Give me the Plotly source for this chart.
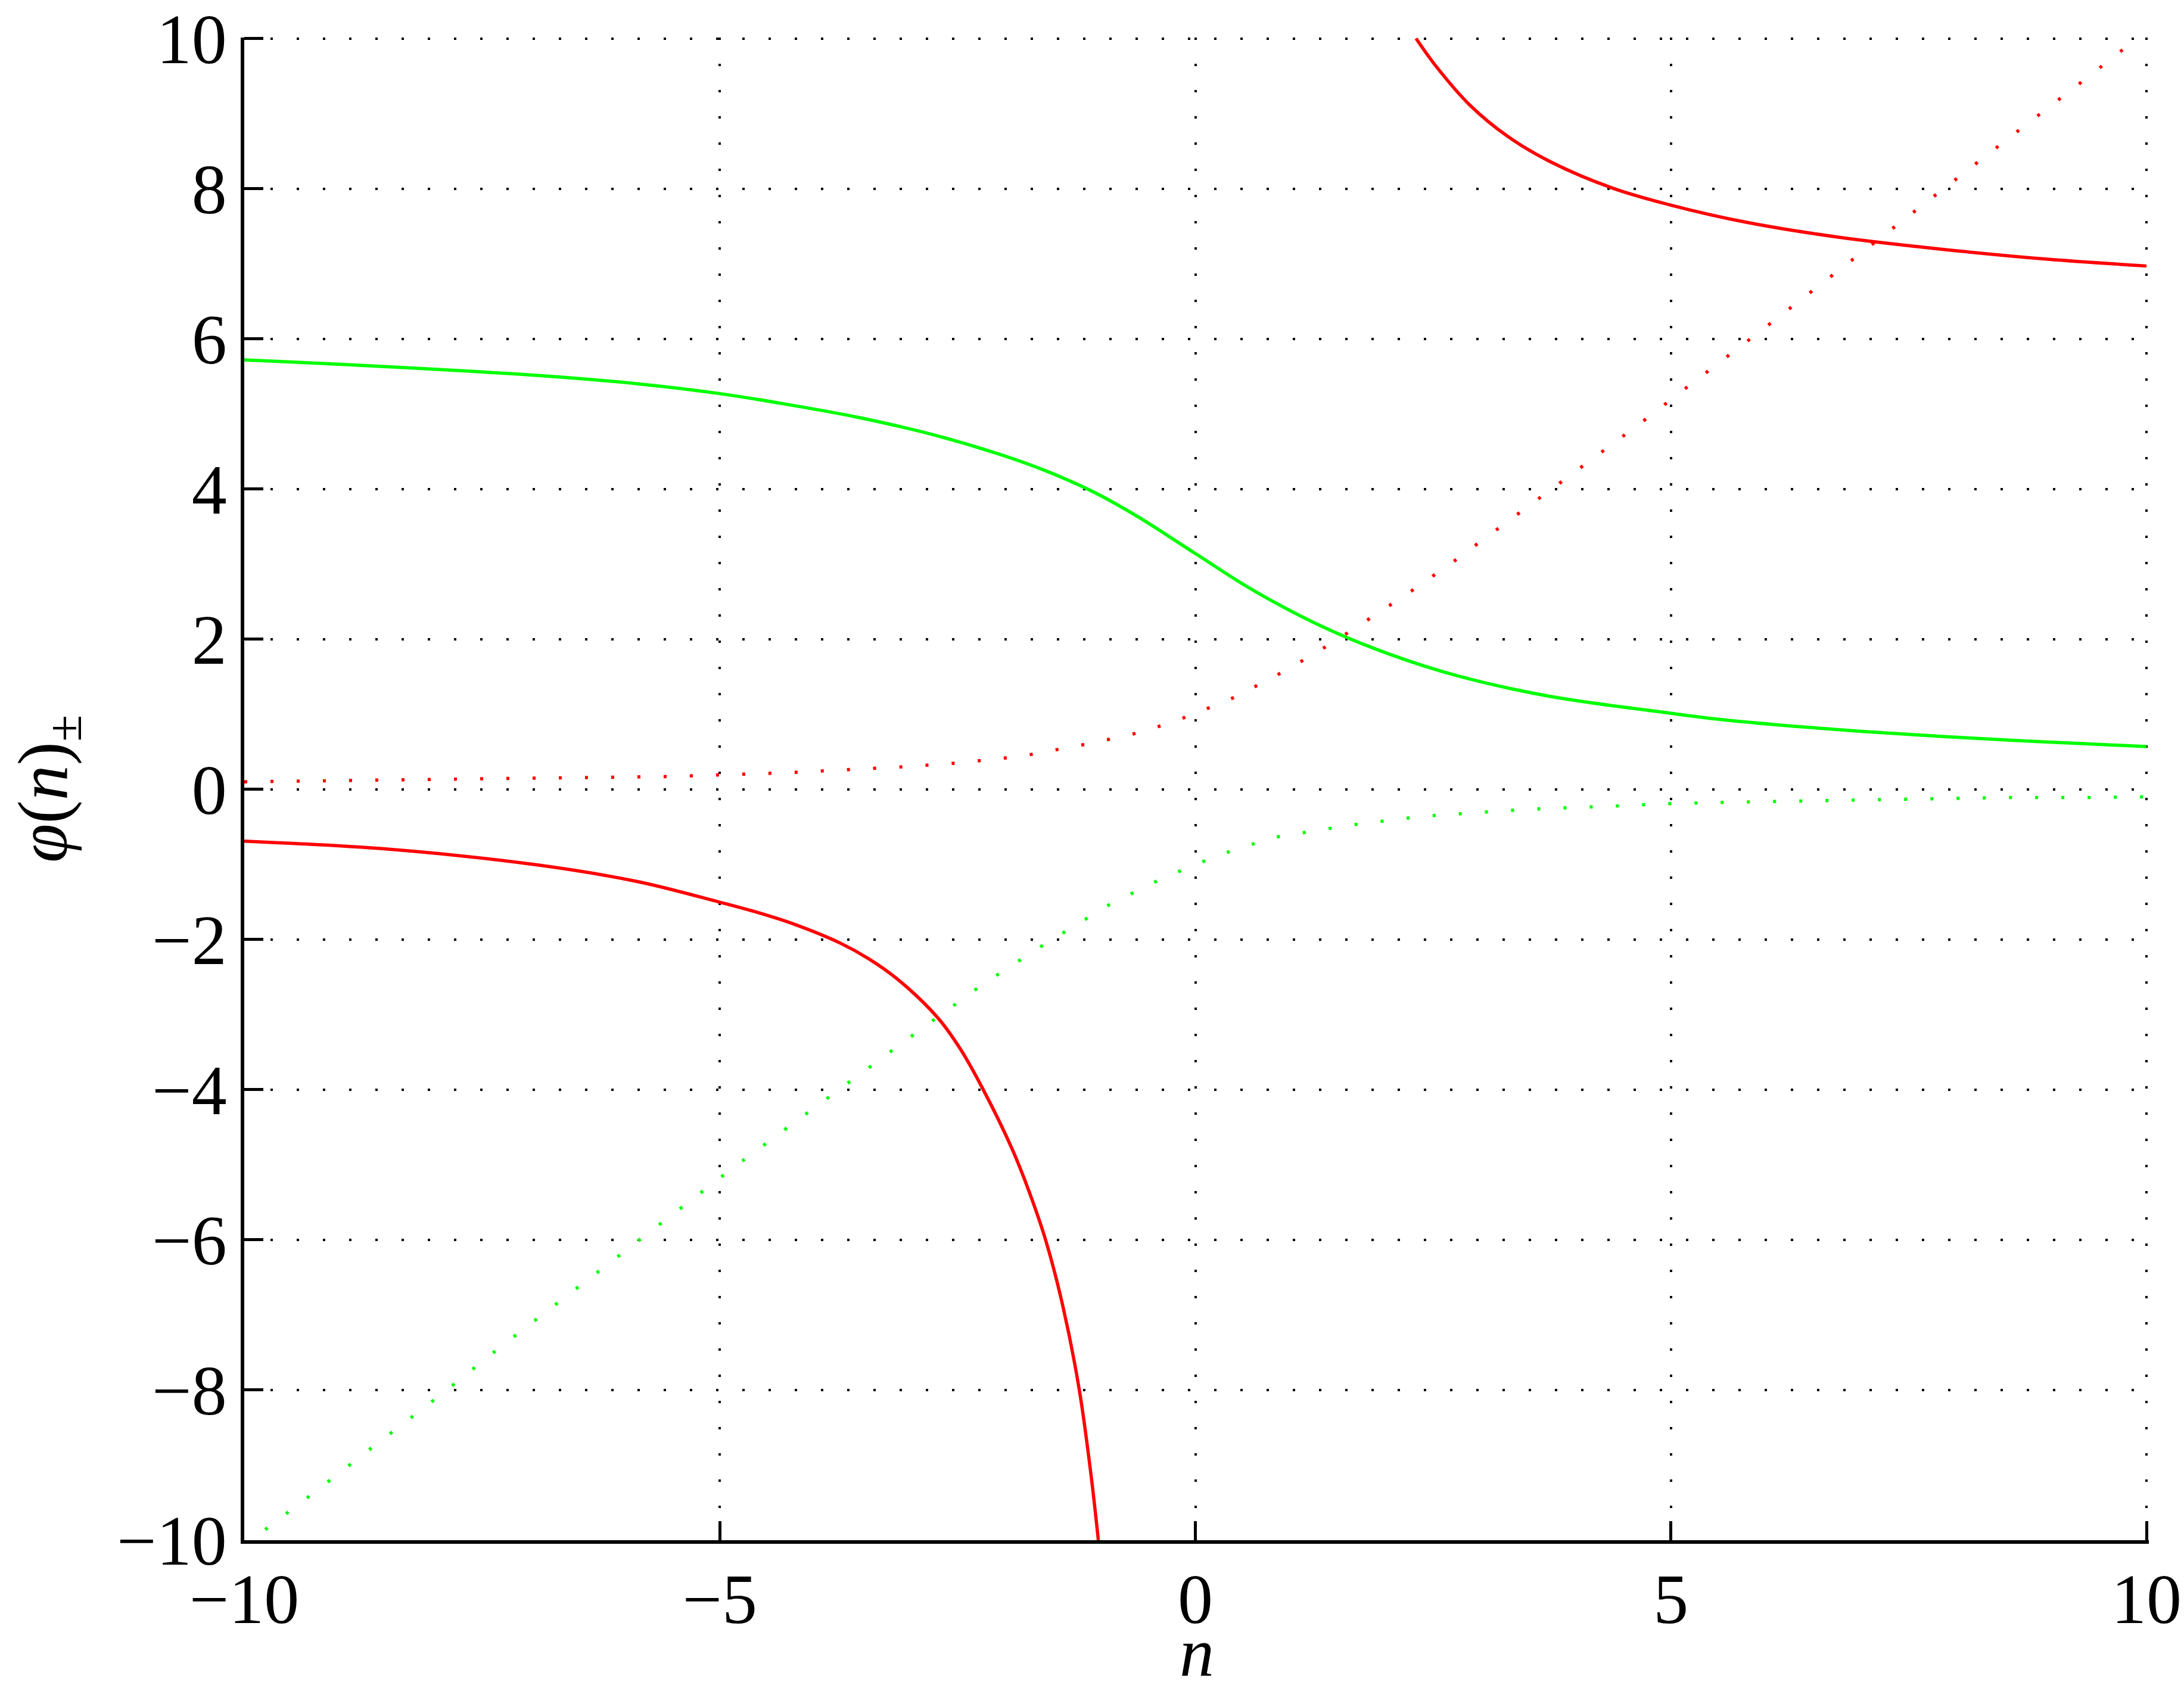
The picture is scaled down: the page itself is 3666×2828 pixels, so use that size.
"""
phi(n)+- curves, MATLAB-style grid plot
"""

import plotly.graph_objects as go

# red solid, upper branch
red_up_n = [2.32, 2.53, 2.88, 3.29, 3.73, 4.38, 5.00, 5.80, 6.78, 7.87, 8.96, 10.0]
red_up_y = [10.0, 9.63, 9.12, 8.69, 8.36, 8.01, 7.78, 7.55, 7.35, 7.19, 7.06, 6.97]

# red solid, lower branch
red_lo_n = [-10.0, -8.46, -6.90, -5.86, -5.01, -4.63, -4.21, -3.73, -3.43, -3.13,
            -2.71, -2.47, -2.23, -1.93, -1.75, -1.57, -1.39, -1.22, -1.10, -1.02]
red_lo_y = [-0.69, -0.80, -1.01, -1.23, -1.50, -1.63, -1.80, -2.05, -2.26, -2.53,
            -3.04, -3.46, -4.00, -4.78, -5.35, -6.02, -6.90, -8.00, -9.10, -10.0]

# green solid
green_n = [-10.0, -8.98, -7.94, -6.90, -5.86, -5.00, -4.31, -3.53, -2.75,
           -2.03, -1.55, -1.07, -0.59, 0.0, 0.61, 1.33, 2.04, 2.76, 3.72,
           4.96, 5.49, 6.30, 7.08, 7.85, 8.62, 9.39, 10.0]
green_y = [5.72, 5.66, 5.59, 5.51, 5.40, 5.27, 5.13, 4.95, 4.72,
           4.45, 4.23, 3.96, 3.62, 3.14, 2.65, 2.17, 1.80, 1.51, 1.24,
           1.02, 0.935, 0.84, 0.765, 0.705, 0.65, 0.605, 0.57]

# red dotted
red_dot_n = [-10.0, -8.46, -6.90, -5.55, -4.31, -3.06, -2.50, -2.05, -1.79, -1.07,
             -0.54, -0.06, 0.42, 0.96, 1.40, 1.84, 2.27, 2.70, 3.12, 3.54,
             4.01, 4.43, 4.85, 5.06, 5.95, 6.84, 7.69, 8.59, 9.43, 9.84, 10.0]
red_dot_y = [0.10, 0.12, 0.15, 0.17, 0.22, 0.30, 0.35, 0.41, 0.45, 0.62,
             0.77, 0.98, 1.23, 1.59, 1.92, 2.28, 2.64, 3.02, 3.41, 3.81,
             4.24, 4.64, 5.04, 5.25, 6.11, 6.99, 7.82, 8.71, 9.53, 9.94, 10.1]

# green dotted
green_dot_n = [-10.0, -9.25, -8.62, -7.92, -7.30, -6.60, -5.97, -5.55, -4.87, -4.23,
               -3.54, -2.90, -2.24, -1.57, -0.91, -0.42, 0.0, 0.42, 0.83, 1.61,
               2.38, 3.43, 4.45, 4.99, 5.71, 6.53, 7.51, 8.49, 9.32, 10.0]
green_dot_y = [-10.07, -9.35, -8.73, -8.05, -7.42, -6.74, -6.13, -5.72, -5.05, -4.45,
               -3.80, -3.21, -2.60, -2.05, -1.54, -1.23, -1.00, -0.80, -0.64, -0.48,
               -0.36, -0.27, -0.22, -0.19, -0.17, -0.15, -0.13, -0.11, -0.11, -0.10]

x_ticks = [-10, -5, 0, 5, 10]
y_ticks = [-10, -8, -6, -4, -2, 0, 2, 4, 6, 8, 10]

RED = '#ff0000'
GREEN = '#00ff00'
SERIF = "'Liberation Serif', 'Times New Roman', Times, 'DejaVu Serif', serif"

fig = go.Figure()
solid = dict(width=5.5, shape='spline', smoothing=1.0)
dotted = dict(width=5.5, dash='5px,39px')
fig.add_trace(go.Scatter(x=red_up_n, y=red_up_y, mode='lines', line=dict(color=RED, **solid)))
fig.add_trace(go.Scatter(x=red_lo_n, y=red_lo_y, mode='lines', line=dict(color=RED, **solid)))
fig.add_trace(go.Scatter(x=green_n, y=green_y, mode='lines', line=dict(color=GREEN, **solid)))
fig.add_trace(go.Scatter(x=red_dot_n, y=red_dot_y, mode='lines', line=dict(color=RED, **dotted)))
fig.add_trace(go.Scatter(x=green_dot_n, y=green_dot_y, mode='lines', line=dict(color=GREEN, **dotted)))

# range ends nudged so the gridlines at 10 are kept
axis_style = dict(
    showline=True, linecolor='black', linewidth=5.5,
    ticks='inside', ticklen=32, tickwidth=5, tickcolor='black',
    showgrid=True, gridcolor='black', gridwidth=4, griddash='4px,40px',
    zeroline=False, tickfont=dict(family=SERIF, size=118),
    ticklabeloverflow='allow', automargin=False,
)

fig.update_layout(
    width=3666, height=2828,
    margin=dict(l=402, r=67, t=55, b=251),
    plot_bgcolor='white', paper_bgcolor='white',
    showlegend=False,
    font=dict(family=SERIF, size=118, color='black'),
)
fig.update_xaxes(**axis_style, range=[-10, 10.025], tickvals=x_ticks, ticklabelstandoff=-8)
fig.update_yaxes(**axis_style, range=[-10, 10.012], tickvals=y_ticks)

# axis titles as annotations so they sit where the reference has them
fig.add_annotation(text='<i>n</i>', xref='paper', yref='paper', x=0.5, y=-0.0745,
                   xanchor='center', yanchor='middle', showarrow=False,
                   font=dict(family=SERIF, size=116))
fig.add_annotation(text='<i>φ</i>(<i>n</i>)<sub>±</sub>', xref='paper', yref='paper',
                   x=-0.103, y=0.5, xanchor='center', yanchor='middle', textangle=-90,
                   showarrow=False, font=dict(family=SERIF, size=118))

fig.write_html("out.html")
